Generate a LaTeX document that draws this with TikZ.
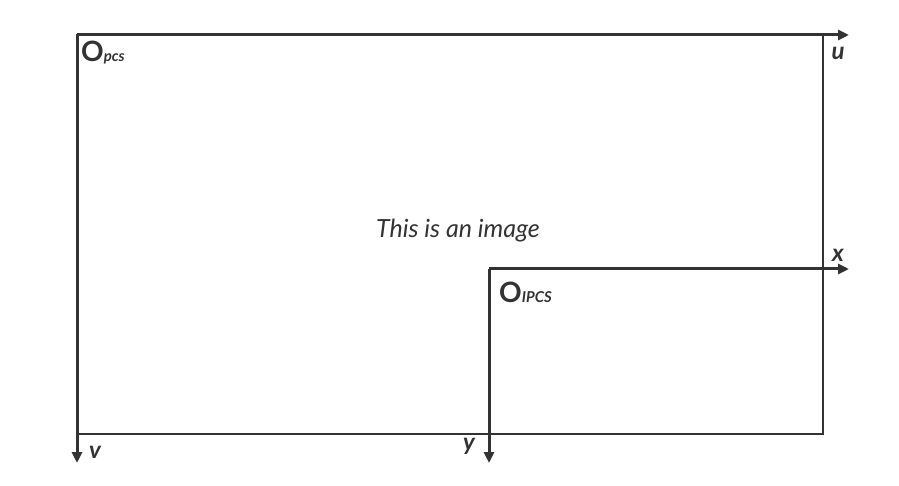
\documentclass[tikz,border=0pt]{standalone}
\usepackage{fontspec}
\setmainfont{Lato}
\usetikzlibrary{arrows.meta}
\definecolor{ink}{HTML}{333333}
\begin{document}
\begin{tikzpicture}[x=1pt,y=-1pt,
  axis/.style={draw=ink,line width=3pt,-{Triangle[length=11pt,width=10pt]}},
  frame/.style={draw=ink,line width=1.5pt},
  lbl/.style={text=ink,font=\fontsize{24}{26}\selectfont\bfseries\itshape,inner sep=0pt},
  orig/.style={text=ink,inner sep=0pt,anchor=west}]
\useasboundingbox (0,0) rectangle (899,486);
\coordinate (tl) at (77,35);
\coordinate (br) at (823,434);
\draw[frame] (tl) rectangle (br);
\coordinate (uend) at (849,35);
\coordinate (vend) at (77,463);
\coordinate (o2) at (489,269);
\coordinate (xend) at (849,269);
\coordinate (yend) at (489,463);
\draw[axis] (tl) -- (uend);
\draw[axis] (tl) -- (vend);
\draw[axis] (o2) -- (xend);
\draw[axis] (o2) -- (yend);
\node[orig] (opcs) at (81,53) {{\fontsize{28}{30}\selectfont\bfseries O}{\fontsize{15}{16}\selectfont\bfseries\itshape pcs}};
\node[orig] (oipcs) at (499,292) {{\fontsize{28}{30}\selectfont\bfseries O}{\fontsize{15}{16}\selectfont\bfseries\itshape IPCS}};
\node[lbl] (u) at (838,53) {u};
\node[lbl] (x) at (838,255) {x};
\node[lbl] (v) at (95,452) {v};
\node[lbl] (y) at (469,446) {y};
\node[text=ink,font=\fontsize{25}{27}\selectfont\itshape] (img) at (458,231) {This is an image};
\end{tikzpicture}
\end{document}
